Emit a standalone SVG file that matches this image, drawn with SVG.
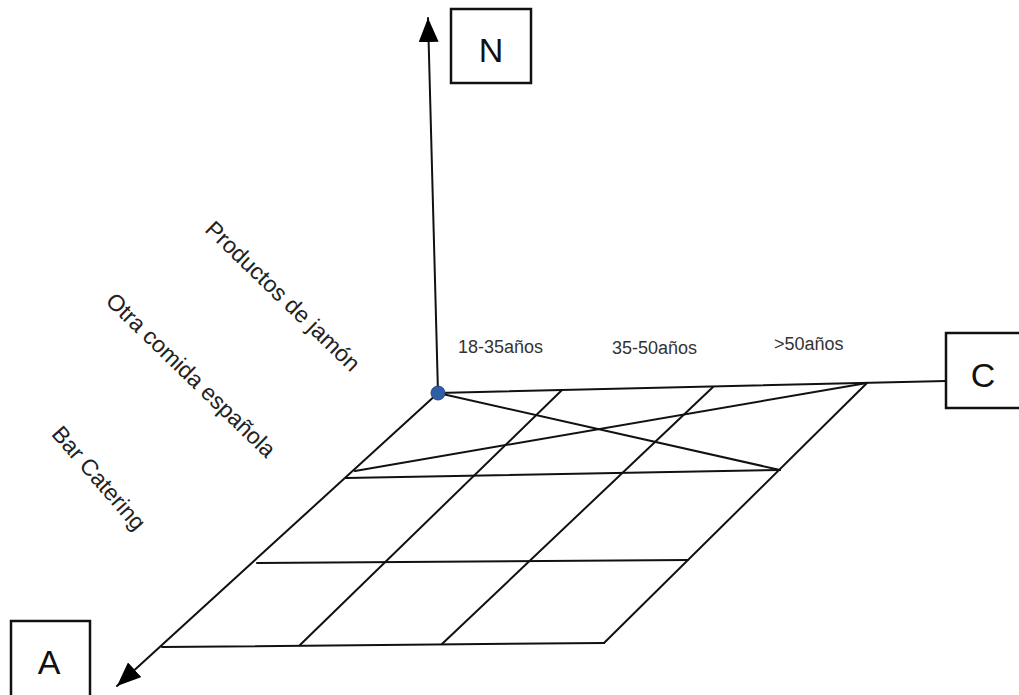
<svg xmlns="http://www.w3.org/2000/svg" width="1019" height="695" viewBox="0 0 1019 695">
  <style>
    .ln { stroke: #111; stroke-width: 2; fill: none; stroke-linecap: round; }
    .box { fill: #fff; stroke: #111; stroke-width: 2.5; }
    .axis-letter { font-family: "Liberation Sans", Arial, sans-serif; font-size: 34px; fill: #111; text-anchor: middle; }
    .age { font-family: "Liberation Sans", Arial, sans-serif; font-size: 18px; fill: #333; }
    .cat { font-family: "Liberation Sans", Arial, sans-serif; font-size: 23px; fill: #222; text-anchor: middle; dominant-baseline: central; }
  </style>
  <defs>
    <marker id="arrow" viewBox="0 0 24 20" refX="24" refY="10" markerWidth="24" markerHeight="20" markerUnits="userSpaceOnUse" orient="auto">
      <path d="M0,0 L24,10 L0,20 z" fill="#000"/>
    </marker>
  </defs>

  <rect width="1019" height="695" fill="#fff"/>

  <!-- axes and grid -->
  <g id="connectors">
    <!-- N axis (vertical) -->
    <line class="ln" x1="438" y1="393" x2="428" y2="18" marker-end="url(#arrow)"/>
    <!-- A axis (towards viewer) -->
    <line class="ln" x1="438" y1="393" x2="117" y2="686" marker-end="url(#arrow)"/>
    <!-- C axis (to the right), also the back edge of the grid -->
    <line class="ln" x1="438" y1="393" x2="946" y2="381"/>

    <!-- grid rows -->
    <line class="ln" x1="346" y1="478" x2="780" y2="470"/>
    <line class="ln" x1="257" y1="563" x2="688" y2="560"/>
    <line class="ln" x1="162" y1="647" x2="604" y2="643"/>

    <!-- grid columns -->
    <line class="ln" x1="562" y1="390" x2="300" y2="645"/>
    <line class="ln" x1="713" y1="387" x2="442" y2="644"/>
    <line class="ln" x1="867" y1="383" x2="604" y2="643"/>

    <!-- crossing diagonals in the first row -->
    <line class="ln" x1="438" y1="393" x2="780" y2="470"/>
    <line class="ln" x1="355" y1="471" x2="867" y2="383"/>
  </g>

  <!-- origin point -->
  <g id="origin">
    <circle cx="438" cy="393" r="7" fill="#2f5ea8" stroke="#24497f" stroke-width="1"/>
  </g>

  <!-- axis boxes -->
  <g id="node-N">
    <rect class="box" x="451" y="9" width="80" height="74"/>
    <text class="axis-letter" x="491" y="62">N</text>
  </g>
  <g id="node-C">
    <rect class="box" x="946" y="333" width="85" height="75"/>
    <text class="axis-letter" x="983" y="387">C</text>
  </g>
  <g id="node-A">
    <rect class="box" x="11" y="621" width="79" height="85"/>
    <text class="axis-letter" x="49" y="674">A</text>
  </g>

  <!-- age ranges along C -->
  <g id="ages">
    <text class="age" x="458" y="353">18-35años</text>
    <text class="age" x="612" y="354">35-50años</text>
    <text class="age" x="774" y="350">&gt;50años</text>
  </g>

  <!-- product categories along A -->
  <g id="categories">
    <text class="cat" transform="translate(283,296) rotate(44)">Productos de jamón</text>
    <text class="cat" transform="translate(191,375) rotate(44)">Otra comida española</text>
    <text class="cat" transform="translate(99,478) rotate(49)">Bar Catering</text>
  </g>
</svg>
